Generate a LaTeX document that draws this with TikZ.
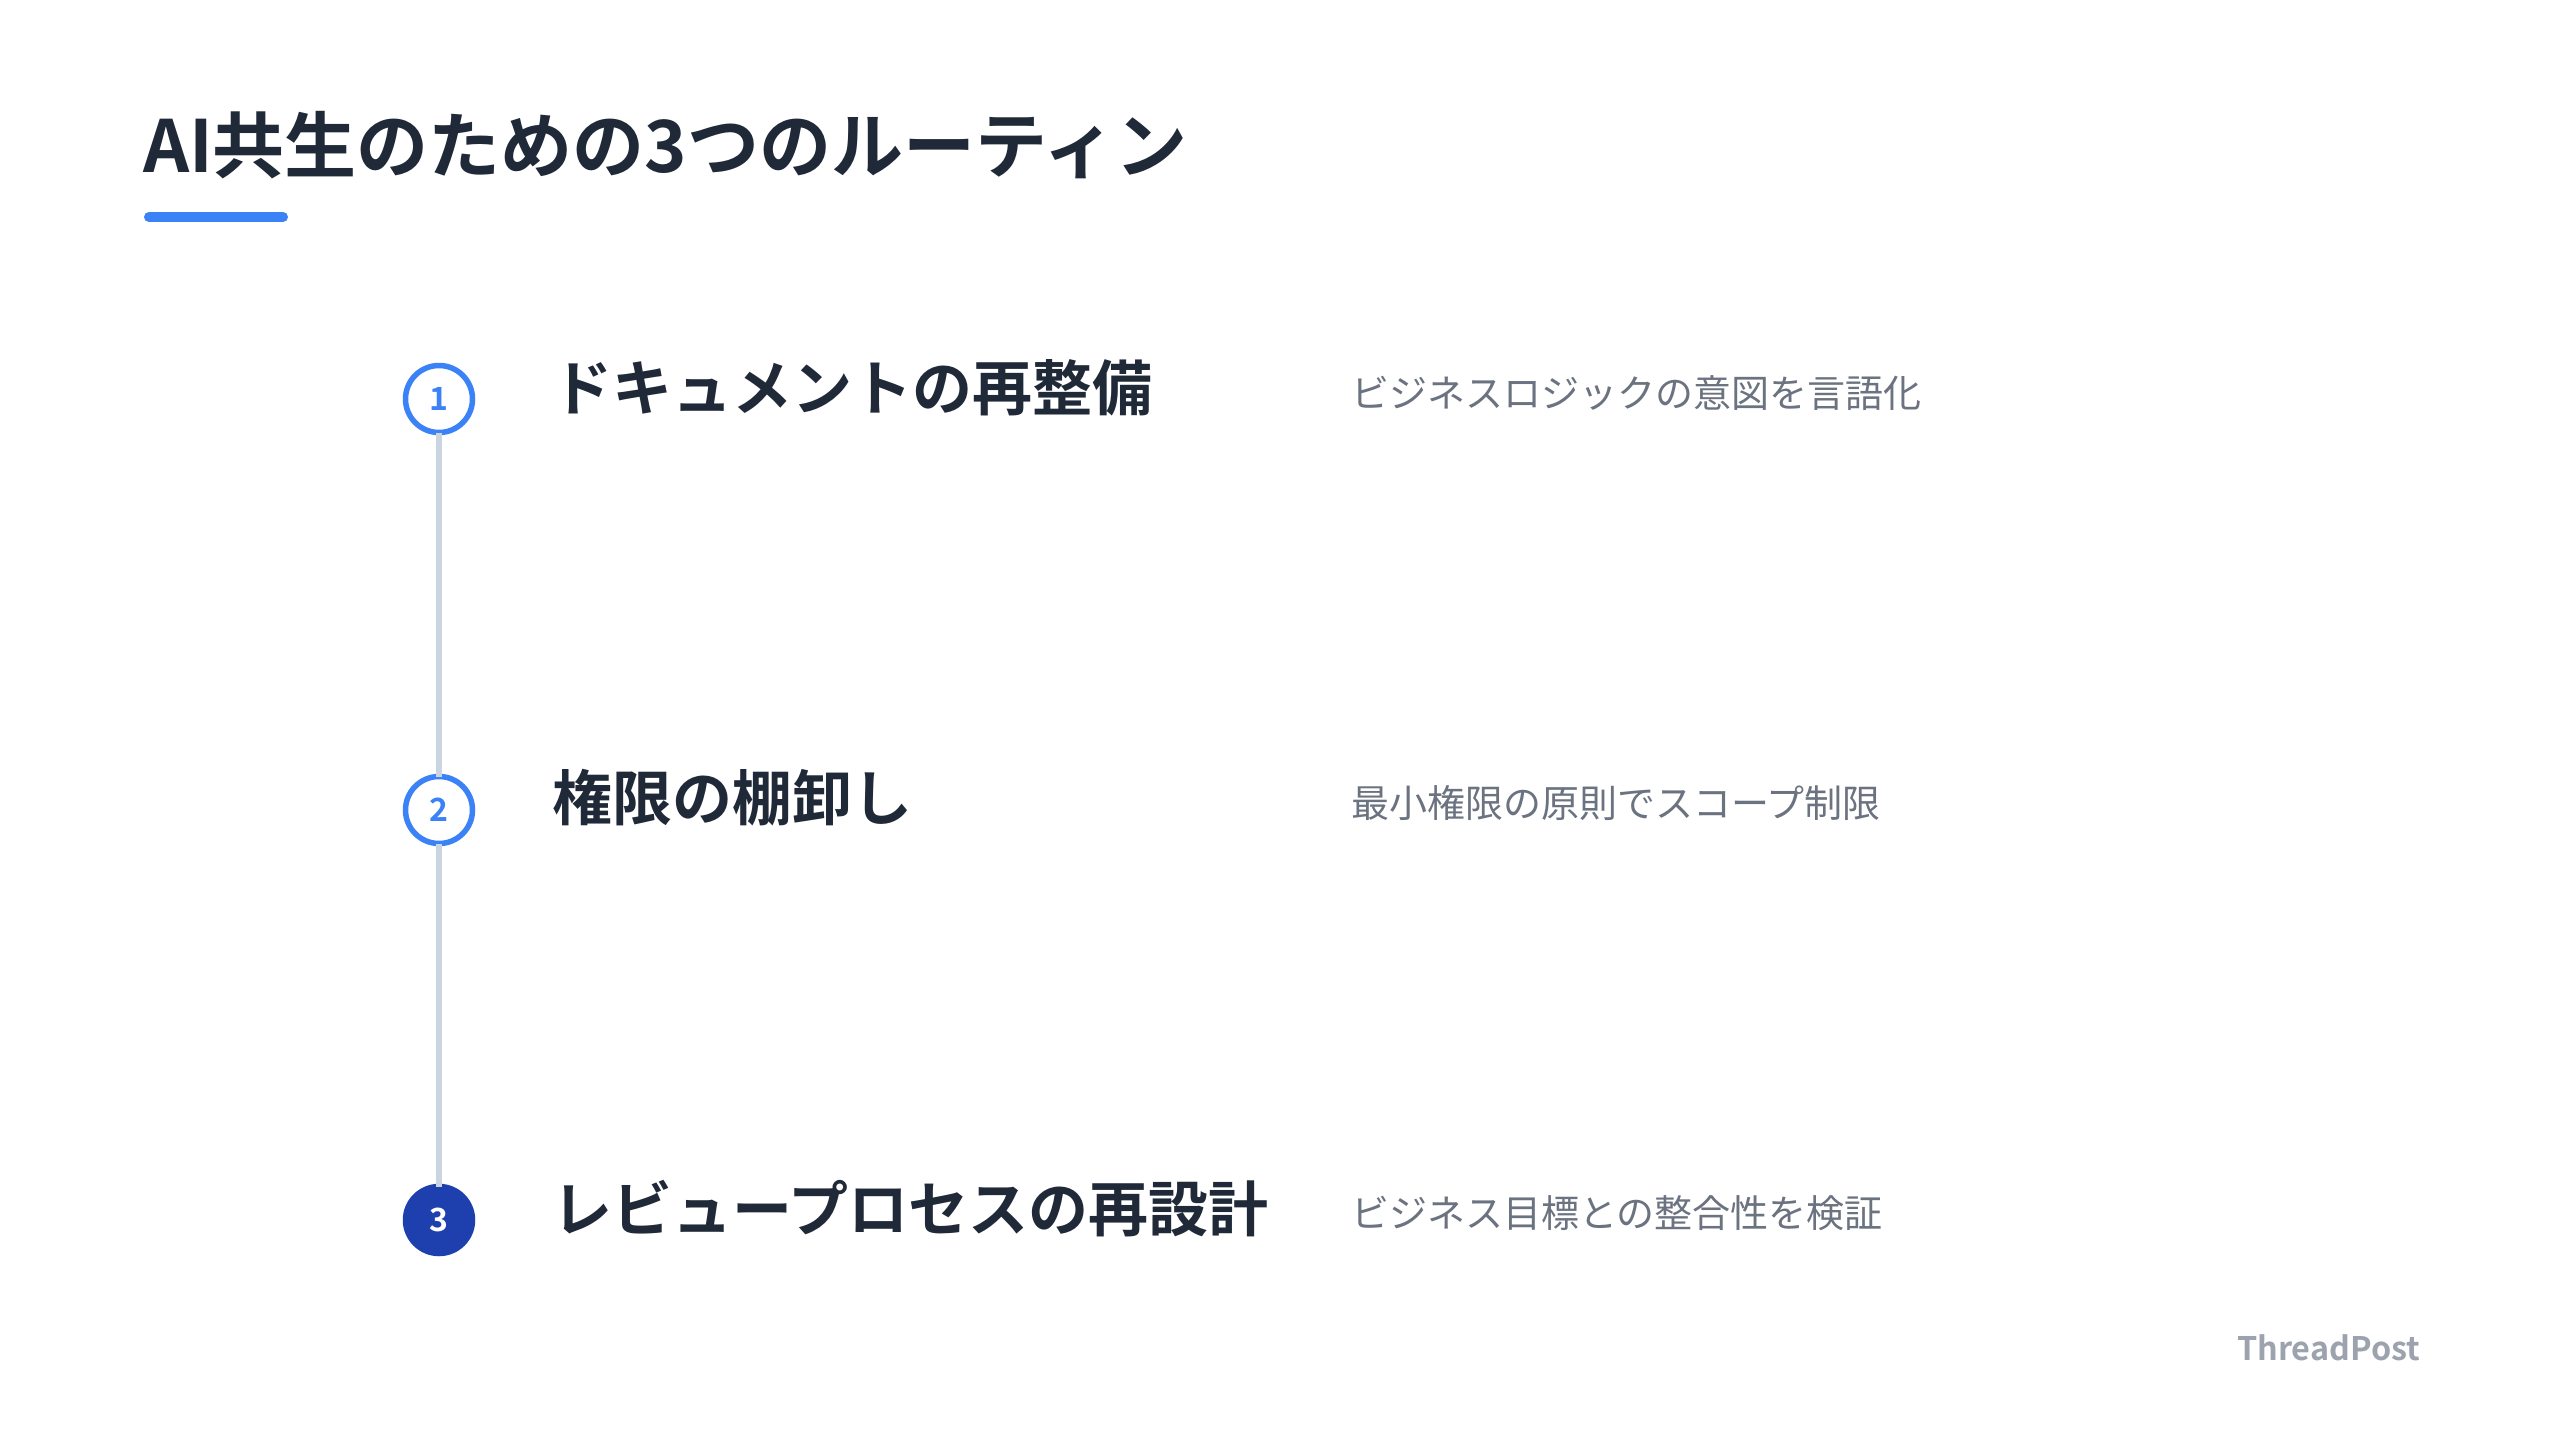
\documentclass[tikz,border=0pt]{standalone}
\usepackage{fontspec}
\newfontfamily\jp{Noto Sans CJK JP}[BoldFont={Noto Sans CJK JP Bold}]
\definecolor{titlec}{HTML}{1F2937}
\definecolor{descc}{HTML}{6B7280}
\definecolor{bluec}{HTML}{3B82F6}
\definecolor{darkbluec}{HTML}{1E40AF}
\definecolor{linec}{HTML}{CBD5E1}
\definecolor{brandc}{HTML}{9CA3AF}
\tikzset{
  every node/.style={inner sep=0pt, outer sep=0pt},
  titletext/.style={anchor=base west, font=\jp\bfseries\fontsize{36}{40}\selectfont, text=titlec},
  headtext/.style={anchor=base west, font=\jp\bfseries\fontsize{30}{34}\selectfont, text=titlec},
  desctext/.style={anchor=base west, font=\jp\fontsize{19}{22}\selectfont, text=descc},
  stepcircle/.style={circle, minimum size=33.5pt, line width=2.75pt, draw=bluec, fill=white, text=bluec, font=\jp\bfseries\fontsize{16}{18}\selectfont},
  stepcircledone/.style={circle, minimum size=33.5pt, line width=2.75pt, draw=darkbluec, fill=darkbluec, text=white, font=\jp\bfseries\fontsize{16}{18}\selectfont},
  timeline/.style={draw=linec, line width=3.2pt},
}
\begin{document}
\begin{tikzpicture}[x=0.5pt, y=-0.5pt]
\useasboundingbox[fill=white] (0,0) rectangle (2560,1440);
% title
\node[titletext] (title) at (143,172) {AI共生のための3つのルーティン};
\coordinate (ulA) at (149,217);
\coordinate (ulB) at (283,217);
\draw[draw=bluec, line width=5pt, line cap=round] (ulA) -- (ulB);
% circles
\node[stepcircle] (c1) at (439,399) {1};
\node[stepcircle] (c2) at (439,810) {2};
\node[stepcircledone] (c3) at (439,1220) {3};
\draw[timeline] (c1.south) -- (c2.north);
\draw[timeline] (c2.south) -- (c3.north);
% headings
\node[headtext] (h1) at (552,410) {ドキュメントの再整備};
\node[headtext] (h2) at (552,820) {権限の棚卸し};
\node[headtext] (h3) at (552,1231) {レビュープロセスの再設計};
% descriptions
\node[desctext] (d1) at (1351,407) {ビジネスロジックの意図を言語化};
\node[desctext] (d2) at (1351,817) {最小権限の原則でスコープ制限};
\node[desctext] (d3) at (1351,1227) {ビジネス目標との整合性を検証};
% brand
\node[anchor=base east, font=\jp\bfseries\fontsize{16.2}{19}\selectfont, text=brandc] (brand) at (2420,1360) {ThreadPost};
\end{tikzpicture}
\end{document}
